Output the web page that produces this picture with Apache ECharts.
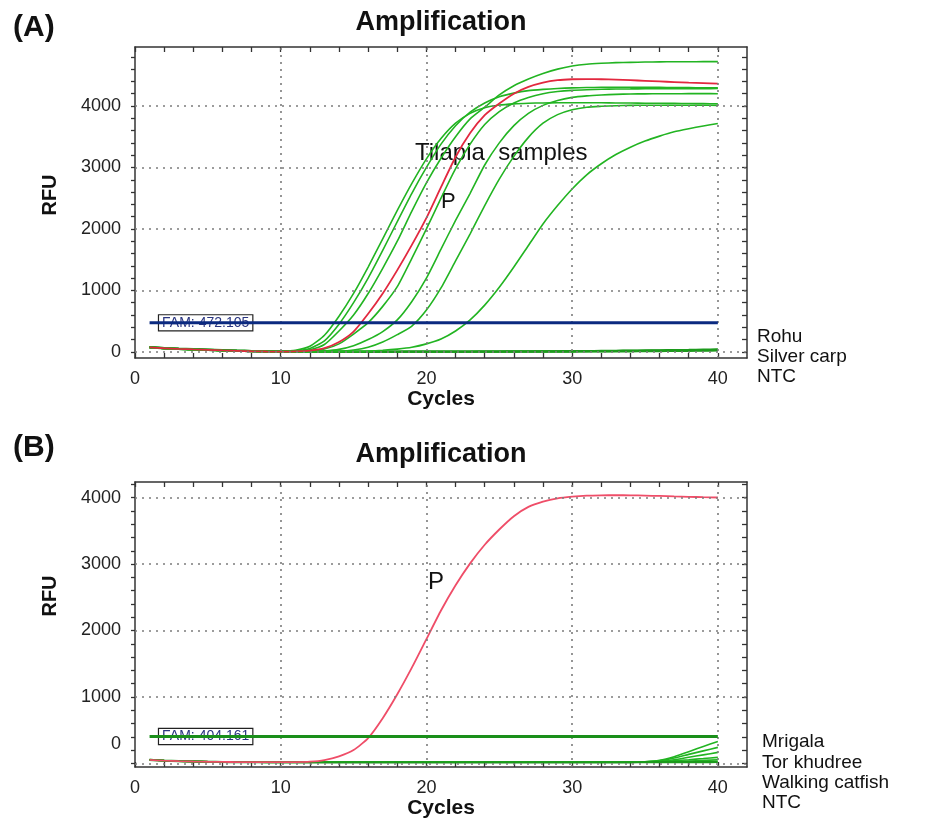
<!DOCTYPE html>
<html>
<head>
<meta charset="utf-8">
<title>Amplification</title>
<script src="https://cdn.jsdelivr.net/npm/echarts@6/dist/echarts.min.js"></script>
<style>
  html, body { margin: 0; padding: 0; background: #fff; }
  #main { width: 937px; height: 820px; }
</style>
</head>
<body>
<div id="main"></div>
<script>
var FONT = "'Liberation Sans', Arial, sans-serif";

// cycles 1..40
var cycles = [1,2,3,4,5,6,7,8,9,10,11,12,13,14,15,16,17,18,19,20,
              21,22,23,24,25,26,27,28,29,30,31,32,33,34,35,36,37,38,39,40];

// axis ticks / labels / grid
var xTicks = [0,2,4,6,8,10,12,14,16,18,20,22,24,26,28,30,32,34,36,38,40];
var xLabels = [0,10,20,30,40];
var xGrid = [10,20,30,40];
var yTicksA = [0,200,400,600,800,1000,1200,1400,1600,1800,2000,2200,2400,2600,2800,3000,3200,3400,3600,3800,4000,4200,4400,4600,4800];
var yLabelsA = [0,1000,2000,3000,4000];
var yGridA = [0,1000,2000,3000,4000];
var yTicksB = [0,200,400,600,800,1000,1200,1400,1600,1800,2000,2200,2400,2600,2800,3000,3200,3400,3600,3800,4000,4200];
var yLabelPosB = [290,1000,2000,3000,4000];   // "0" sits above its tick in the original
var yGridB = [0,1000,2000,3000,4000];

var thresholdA = 472.105;
var thresholdB = 404.161;

// panel A - tilapia samples (green) and positive control P (red)
var tilA1 = [72,58,47,38,30,22,15,10,8,10,25,90,270,580,950,1380,1840,2300,2740,3140,
             3470,3720,3880,3970,4015,4035,4045,4050,4052,4053,4053,4052,4050,4048,4046,4044,4042,4040,4038,4036];
var tilA2 = [70,57,46,37,29,21,14,9,7,8,15,55,180,450,800,1200,1650,2120,2580,3000,
             3380,3680,3900,4050,4150,4210,4250,4270,4285,4295,4300,4304,4306,4306,4305,4303,4301,4299,4297,4295];
var tilA3 = [74,60,48,39,31,23,16,10,7,6,10,35,120,340,600,950,1360,1800,2290,2750,
             3150,3500,3790,3980,4180,4330,4440,4530,4600,4650,4680,4695,4705,4710,4715,4718,4720,4720,4722,4722];
var tilA4 = [71,57,45,36,28,20,13,8,6,5,6,15,45,130,290,475,740,1060,1520,2000,
             2500,2980,3380,3700,3910,4050,4140,4200,4235,4255,4265,4272,4276,4278,4280,4281,4282,4283,4283,4284];
var tilA5 = [72,58,46,37,29,21,14,9,6,4,4,6,15,40,100,200,330,520,820,1200,
             1670,2140,2580,3040,3400,3680,3880,4010,4090,4140,4165,4180,4190,4195,4198,4200,4200,4201,4201,4200];
var tilA6 = [70,56,45,36,28,20,13,8,5,4,3,4,6,10,30,75,160,280,420,680,
             1040,1480,1920,2380,2810,3180,3490,3720,3860,3940,3980,3995,4005,4010,4012,4013,4013,4012,4012,4011];
var tilA7 = [71,57,46,37,29,21,14,9,6,4,3,3,3,4,5,12,25,45,75,130,
             210,340,520,760,1050,1380,1730,2080,2380,2650,2880,3060,3210,3330,3430,3510,3580,3630,3675,3714];
var posA = [73,59,48,39,31,23,16,10,6,5,8,20,60,160,330,620,950,1330,1740,2180,
            2680,3170,3560,3850,4040,4200,4310,4380,4420,4435,4438,4435,4428,4420,4410,4400,4390,4380,4372,4364];
var rohuA = [78,62,52,44,36,28,20,14,10,7,5,4,4,3,3,3,3,3,4,4,
             4,5,5,6,6,7,8,9,10,11,13,15,17,20,23,26,29,32,36,40];
var silverA = [76,60,50,42,34,26,19,13,9,6,4,3,3,2,2,2,2,2,3,3,
               3,3,4,4,5,5,6,7,8,9,10,12,14,16,18,20,23,26,29,32];
var ntcA = [74,58,48,40,32,24,17,12,8,5,3,2,2,1,1,1,1,1,2,2,
            2,2,2,3,3,3,4,4,5,5,6,7,8,9,11,13,15,17,19,22];

// panel B - positive control P (red) and non-target species (green)
var posB = [52,40,33,28,24,21,19,18,17,17,18,25,50,105,200,380,680,1040,1440,1870,
            2300,2680,3010,3290,3520,3720,3860,3940,3990,4015,4030,4035,4036,4035,4030,4025,4018,4012,4006,4002];
var mrigalaB = [56,43,35,30,26,23,21,20,19,18,18,18,18,18,18,18,18,18,18,18,
                18,18,18,18,18,18,18,18,18,18,18,18,18,19,24,45,100,175,255,330];
var torB = [55,42,34,29,25,22,20,19,18,18,18,18,18,18,18,18,18,18,18,18,
            18,18,18,18,18,18,18,18,18,18,18,18,18,19,22,38,80,135,188,240];
var catfishB = [54,41,34,29,25,22,20,19,18,18,17,17,17,17,17,17,17,17,17,17,
                17,17,17,17,17,17,17,17,17,17,17,17,17,18,20,30,55,92,128,165];
var otherB1 = [53,41,33,28,24,21,19,18,17,17,17,17,17,17,17,17,17,17,17,17,
               17,17,17,17,17,17,17,17,17,17,17,17,17,18,19,25,40,55,72,90];
var otherB2 = [53,40,33,28,24,21,19,18,17,17,17,17,17,17,17,17,17,17,17,17,
               17,17,17,17,17,17,17,17,17,17,17,17,17,17,18,21,28,36,44,52];
var ntcB = [52,40,32,27,23,20,18,17,16,16,16,16,16,16,16,16,16,16,16,16,
            16,16,16,16,16,16,16,16,16,16,16,16,16,16,17,17,18,18,19,20];

var GREEN = '#22b422';
var chart = echarts.init(document.getElementById('main'));

function pairs(arr) {
    return cycles.map(function (c, i) { return [c, arr[i]]; });
}

function curve(name, arr, xi, color, width) {
    return {
        name: name, type: 'line', xAxisIndex: xi, yAxisIndex: xi,
        data: pairs(arr), showSymbol: false, smooth: 0.2, silent: true, z: 3,
        lineStyle: { color: color, width: width || 1.6 }
    };
}

function gridLines(xi, yGrid) {
    var d = xGrid.map(function (v) { return { xAxis: v }; })
        .concat(yGrid.map(function (v) { return { yAxis: v }; }));
    return {
        type: 'line', xAxisIndex: xi, yAxisIndex: xi, data: [], silent: true, z: 1,
        markLine: {
            silent: true, symbol: ['none', 'none'], label: { show: false },
            lineStyle: { type: [2, 5], color: '#7c7c7c', width: 1.6 },
            data: d
        }
    };
}

function threshold(val, xi, color) {
    return {
        type: 'line', xAxisIndex: xi, yAxisIndex: xi, silent: true, z: 5,
        data: [[1, val], [40, val]], showSymbol: false,
        lineStyle: { color: color, width: 3 },
        markPoint: {
            symbol: 'circle', symbolSize: 1, itemStyle: { color: 'rgba(0,0,0,0)' },
            data: [{ coord: [1, val] }],
            label: {
                show: true, position: 'right', distance: 9,
                formatter: 'FAM: ' + val,
                backgroundColor: '#fff', borderColor: '#222', borderWidth: 1.2,
                padding: [1, 3, 0, 3], fontSize: 14, color: '#2a3580', fontFamily: FONT
            }
        }
    };
}

function xAxisPair(gi) {
    var line = { show: true, onZero: false, lineStyle: { color: '#333', width: 1.5 } };
    return [{
        type: 'value', gridIndex: gi, position: 'bottom', min: 0, max: 42,
        axisLine: line,
        axisTick: { show: true, inside: true, length: 5, customValues: xTicks, lineStyle: { color: '#333', width: 1.3 } },
        axisLabel: { customValues: xLabels, margin: 12, fontSize: 18, color: '#222', fontFamily: FONT },
        splitLine: { show: false },
        name: 'Cycles', nameLocation: 'middle', nameGap: 31,
        nameTextStyle: { fontSize: 21, fontWeight: 'bold', color: '#111', fontFamily: FONT }
    }, {
        type: 'value', gridIndex: gi, position: 'top', min: 0, max: 42,
        axisLine: line,
        axisTick: { show: true, inside: true, length: 5, customValues: xTicks, lineStyle: { color: '#333', width: 1.3 } },
        axisLabel: { show: false }, splitLine: { show: false }
    }];
}

function yAxisPair(gi, min, max, ticks, labels, fmt) {
    var line = { show: true, onZero: false, lineStyle: { color: '#333', width: 1.5 } };
    return [{
        type: 'value', gridIndex: gi, position: 'left', min: min, max: max,
        axisLine: line,
        axisTick: { show: true, inside: false, length: 4, customValues: ticks, lineStyle: { color: '#333', width: 1.3 } },
        axisLabel: { customValues: labels, margin: 14, fontSize: 18, color: '#222', fontFamily: FONT, formatter: fmt },
        splitLine: { show: false }
    }, {
        type: 'value', gridIndex: gi, position: 'right', min: min, max: max,
        axisLine: line,
        axisTick: { show: true, inside: true, length: 5, customValues: ticks, lineStyle: { color: '#333', width: 1.3 } },
        axisLabel: { show: false }, splitLine: { show: false }
    }];
}

function txt(x, y, text, font, extra) {
    var style = { text: text, font: font, fill: '#111', textAlign: 'left', textVerticalAlign: 'middle' };
    for (var k in (extra || {})) style[k] = extra[k];
    return { type: 'text', x: x, y: y, silent: true, style: style };
}

var plainFmt = function (v) { return String(v); };
var fmtB = function (v) { return v < 500 ? '0' : String(v); };

var option = {
    animation: false,
    backgroundColor: '#fff',
    grid: [
        { left: 135, top: 47, right: 190, height: 311 },
        { left: 135, top: 482, right: 190, height: 288 }
    ],
    xAxis: xAxisPair(0).concat(xAxisPair(1)),
    yAxis: yAxisPair(0, -100, 4960, yTicksA, yLabelsA, plainFmt)
        .concat(yAxisPair(1, -55, 4235, yTicksB, yLabelPosB, fmtB)),
    series: [
        gridLines(0, yGridA),
        curve('Rohu', rohuA, 0, '#1c9a1c', 2.2),
        curve('Silver carp', silverA, 0, '#1c9a1c', 2.2),
        curve('NTC', ntcA, 0, '#1c9a1c', 2.2),
        curve('Tilapia 1', tilA1, 0, GREEN),
        curve('Tilapia 2', tilA2, 0, GREEN),
        curve('Tilapia 3', tilA3, 0, GREEN),
        curve('Tilapia 4', tilA4, 0, GREEN),
        curve('Tilapia 5', tilA5, 0, GREEN),
        curve('Tilapia 6', tilA6, 0, GREEN),
        curve('Tilapia 7', tilA7, 0, GREEN),
        curve('P', posA, 0, '#e2283f', 1.8),
        threshold(thresholdA, 0, '#0b2a80'),

        gridLines(2, yGridB),
        curve('Mrigala', mrigalaB, 2, GREEN),
        curve('Tor khudree', torB, 2, GREEN),
        curve('Walking catfish', catfishB, 2, GREEN),
        curve('other 1', otherB1, 2, GREEN),
        curve('other 2', otherB2, 2, GREEN),
        curve('NTC', ntcB, 2, '#1c9a1c', 2.2),
        curve('P', posB, 2, '#ef4d68', 1.8),
        threshold(thresholdB, 2, '#1a8f1a')
    ],
    graphic: [
        txt(13, 28, '(A)', 'bold 30px ' + FONT),
        txt(13, 448, '(B)', 'bold 30px ' + FONT),
        txt(441, 23, 'Amplification', 'bold 27px ' + FONT, { textAlign: 'center' }),
        txt(441, 455, 'Amplification', 'bold 27px ' + FONT, { textAlign: 'center' }),
        { type: 'text', x: 50, y: 195, rotation: Math.PI / 2, silent: true,
          style: { text: 'RFU', font: 'bold 20px ' + FONT, fill: '#111', textAlign: 'center', textVerticalAlign: 'middle' } },
        { type: 'text', x: 50, y: 596, rotation: Math.PI / 2, silent: true,
          style: { text: 'RFU', font: 'bold 20px ' + FONT, fill: '#111', textAlign: 'center', textVerticalAlign: 'middle' } },
        txt(415, 153, 'Tilapia  samples', '24px ' + FONT),
        txt(441, 202, 'P', '22px ' + FONT),
        txt(428, 582, 'P', '24px ' + FONT),
        txt(757, 327, 'Rohu\nSilver carp\nNTC', '19px ' + FONT, { textVerticalAlign: 'top', lineHeight: 20 }),
        txt(762, 732, 'Mrigala\nTor khudree\nWalking catfish\nNTC', '19px ' + FONT, { textVerticalAlign: 'top', lineHeight: 20.3 })
    ]
};

chart.setOption(option);
</script>
</body>
</html>
